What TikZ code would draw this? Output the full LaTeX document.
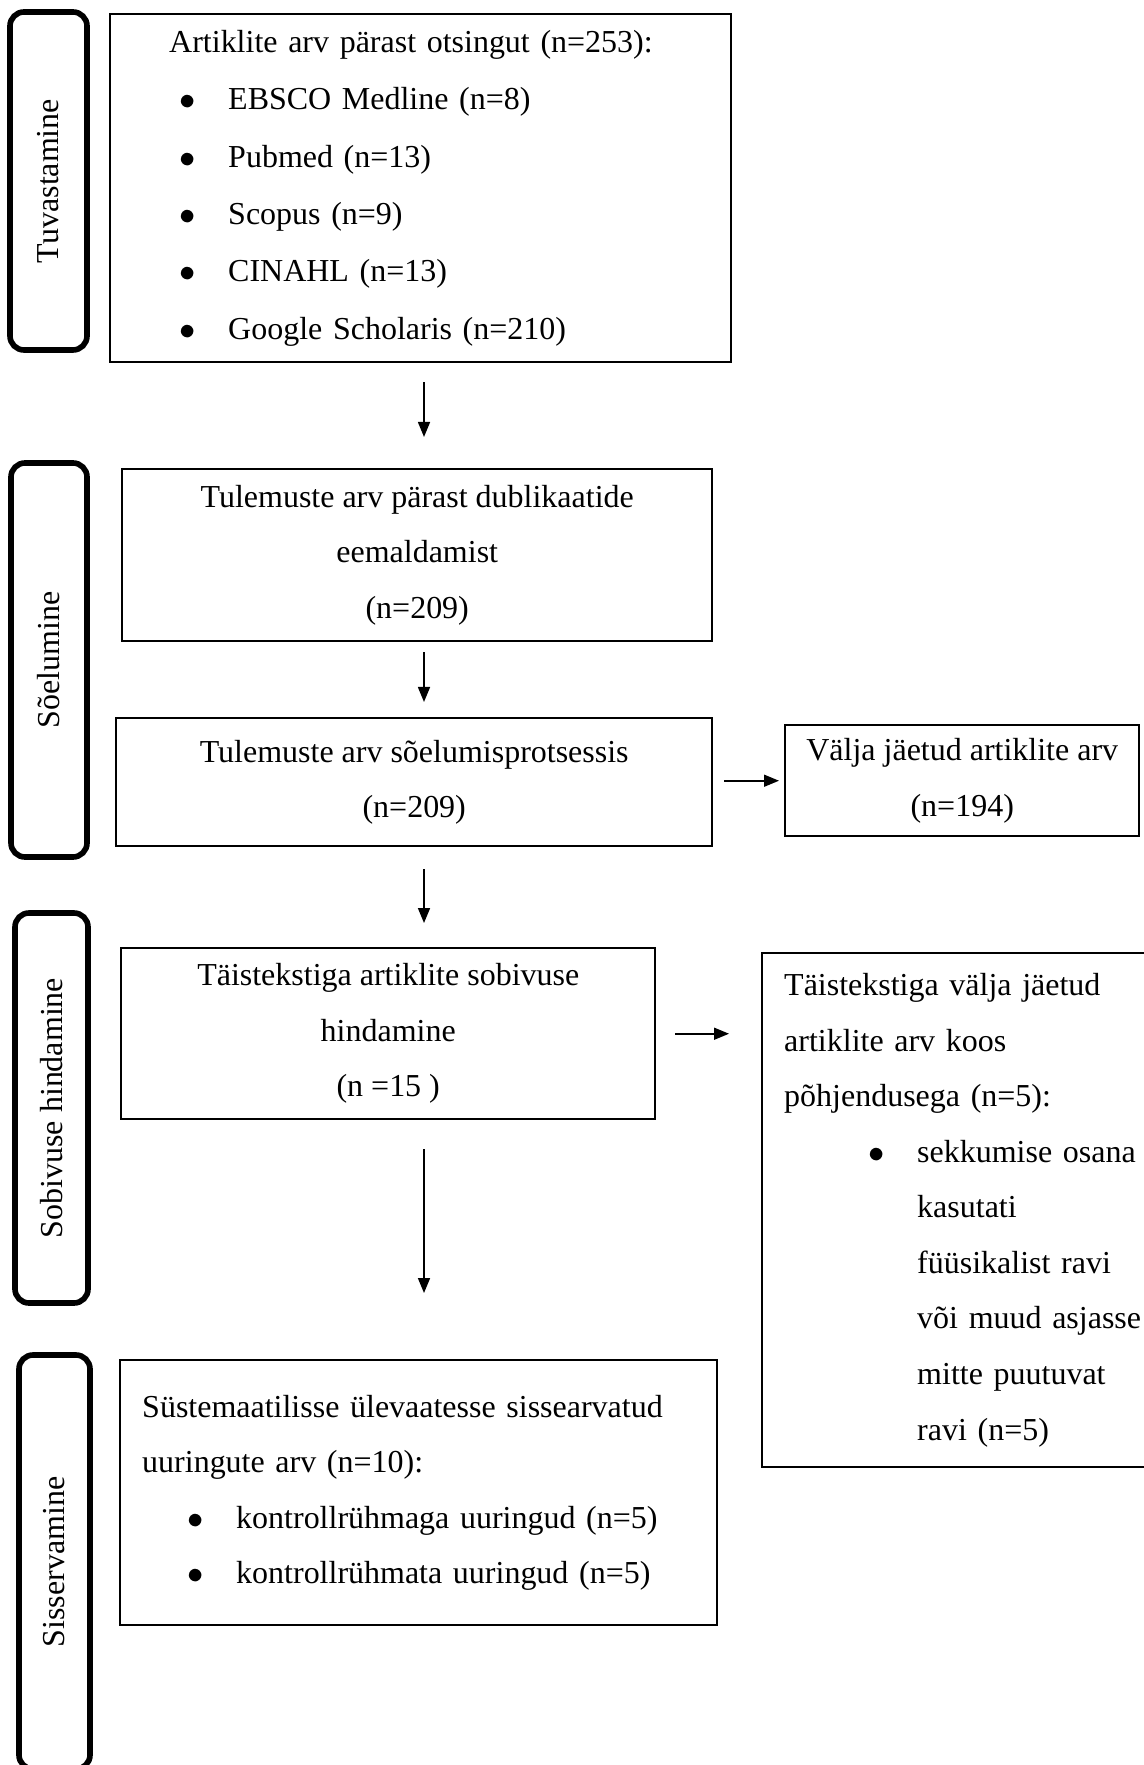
\documentclass[tikz,border=0pt]{standalone}
\usepackage{fontspec}
\setmainfont{Liberation Serif}
\usetikzlibrary{arrows.meta, calc, positioning}
\tikzset{
  >={Triangle[length=1.5mm, width=1.2mm]},
  every picture/.style={line join=miter},
  stage/.style={draw, line width=1.6pt, rounded corners=0.14cm, rotate=90,
    inner sep=0pt, font=\fontsize{9.1pt}{11pt}\selectfont},
  box/.style={draw, line width=0.7pt, inner sep=0pt, anchor=north west,
    align=center, font=\fontsize{9.1pt}{15.8pt}\selectfont},
  listbox/.style={box, align=left, inner ysep=0pt},
  flow/.style={->, line width=0.45pt},
}
% bullet line: indent, bullet, text
\newcommand{\bitem}[2]{\hspace*{#1}\makebox[0.49cm][l]{$\bullet$}#2}

\begin{document}
\begin{tikzpicture}
  \useasboundingbox (0,0) rectangle (11.44,-17.65);
  \clip (0,0) rectangle (11.44,-17.65);
  \coordinate (spine) at (4.24,0);
  % ---- stage tags on the left
  \node[stage, minimum width=3.38cm, minimum height=0.77cm] (tagfind) at (0.485,-1.81) {Tuvastamine};
  \node[stage, minimum width=3.94cm, minimum height=0.76cm] (tagscreen) at (0.49,-6.60) {Sõelumine};
  \node[stage, minimum width=3.90cm, minimum height=0.73cm] (tagelig) at (0.515,-11.08) {Sobivuse hindamine};
  \node[stage, minimum width=4.14cm, minimum height=0.71cm] (tagincl) at (0.545,-15.62) {Sisservamine};
  % ---- identification
  \node[listbox, minimum width=6.21cm, minimum height=3.48cm, text width=5.03cm, inner xsep=0.59cm,
        font=\fontsize{9.1pt}{16.3pt}\selectfont] (search) at (1.09,-0.13)
    {Artiklite arv pärast otsingut (n=253):\\
     \bitem{0.10cm}{EBSCO Medline (n=8)}\\
     \bitem{0.10cm}{Pubmed (n=13)}\\
     \bitem{0.10cm}{Scopus (n=9)}\\
     \bitem{0.10cm}{CINAHL (n=13)}\\
     \bitem{0.10cm}{Google Scholaris (n=210)}};
  % ---- screening
  \node[box, minimum width=5.90cm, minimum height=1.72cm] (dedup) at (1.21,-4.68)
    {Tulemuste arv pärast dublikaatide\\eemaldamist\\(n=209)};
  \node[box, minimum width=5.96cm, minimum height=1.28cm] (screen) at (1.15,-7.17)
    {Tulemuste arv sõelumisprotsessis\\(n=209)};
  \node[box, minimum width=3.54cm, minimum height=1.11cm] (excl) at (7.84,-7.24)
    {Välja jäetud artiklite arv\\(n=194)};
  % ---- eligibility
  \node[box, minimum width=5.34cm, minimum height=1.71cm] (fulltext) at (1.20,-9.47)
    {Täistekstiga artiklite sobivuse\\hindamine\\(n =15 )};
  \node[listbox, minimum width=4.14cm, minimum height=5.14cm, text width=3.70cm, inner xsep=0.22cm] (ftexcl) at (7.61,-9.52)
    {Täistekstiga välja jäetud\\
     artiklite arv koos\\
     põhjendusega (n=5):\\
     \bitem{0.84cm}{sekkumise osana}\\
     \hspace*{1.33cm}kasutati\\
     \hspace*{1.33cm}füüsikalist ravi\\
     \hspace*{1.33cm}või muud asjasse\\
     \hspace*{1.33cm}mitte puutuvat\\
     \hspace*{1.33cm}ravi (n=5)};
  % ---- included
  \node[listbox, minimum width=5.97cm, minimum height=2.65cm, text width=5.53cm, inner xsep=0.22cm] (incl) at (1.19,-13.59)
    {Süstemaatilisse ülevaatesse sissearvatud\\
     uuringute arv (n=10):\\
     \bitem{0.45cm}{kontrollrühmaga uuringud (n=5)}\\
     \bitem{0.45cm}{kontrollrühmata uuringud (n=5)}};
  % ---- arrows
  \draw[flow, shorten <=0.19cm, shorten >=0.31cm] (search.south -| spine) -- (dedup.north -| spine);
  \draw[flow, shorten <=0.10cm, shorten >=0.15cm] (dedup.south -| spine) -- (screen.north -| spine);
  \draw[flow, shorten <=0.11cm, shorten >=0.05cm] (excl.west -| screen.east) -- (excl.west);
  \draw[flow, shorten <=0.22cm, shorten >=0.24cm] (screen.south -| spine) -- (fulltext.north -| spine);
  \draw[flow, shorten <=0.19cm, shorten >=0.32cm] (fulltext.east) -- (fulltext.east -| ftexcl.west);
  \draw[flow, shorten <=0.29cm, shorten >=0.66cm] (fulltext.south -| spine) -- (incl.north -| spine);
\end{tikzpicture}
\end{document}
